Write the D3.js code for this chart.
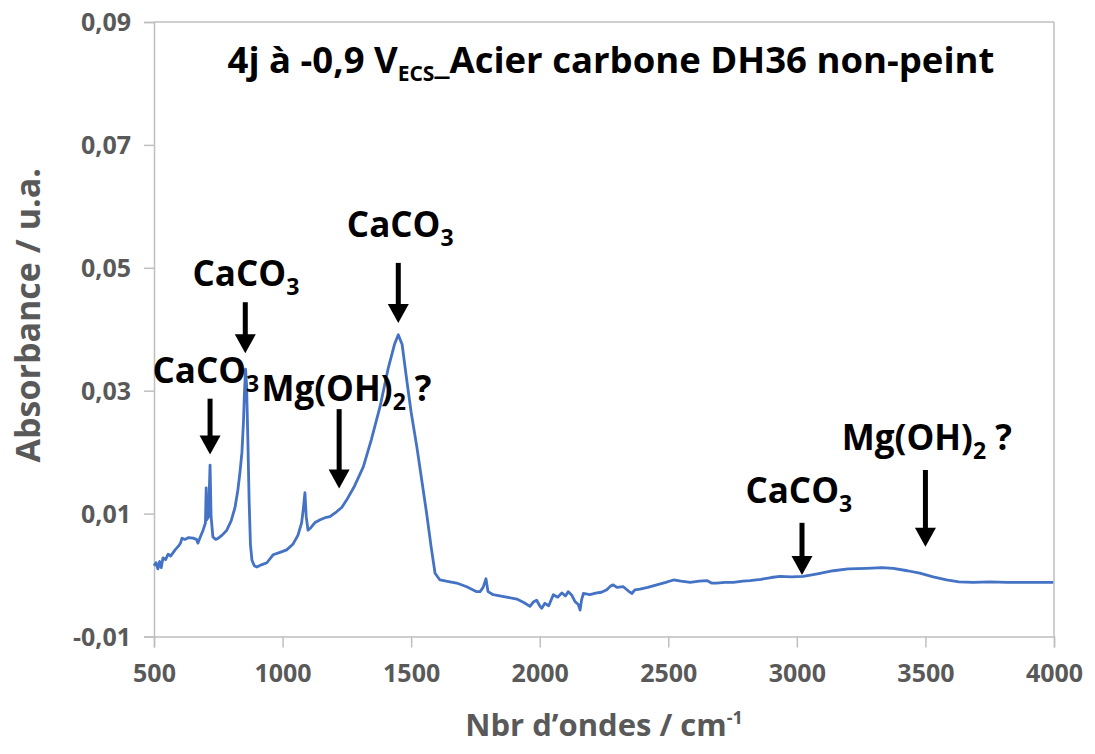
<!DOCTYPE html>
<html><head><meta charset="utf-8">
<script src="https://cdn.jsdelivr.net/npm/d3@7"></script>
<style>body{margin:0;background:#fff}svg{display:block}text{font-family:"Open Sans","Noto Sans",sans-serif;font-weight:bold}</style>
</head><body>
<svg id="c" width="1095" height="754"></svg>
<script>
const wavenumber = [500,508,515,522,528,535,545,555,565,582,595,603,609,620,635,652,665,671,680,691,700,703,705,712,718,722,729,740,750,765,783,800,815,826,834,842,848,852,856,860,865,870,875,881,890,900,920,939,963,990,1016,1040,1060,1074,1080,1087,1092,1099,1110,1125,1146,1170,1184,1210,1230,1249,1280,1314,1345,1379,1410,1435,1450,1465,1483,1500,1522,1540,1560,1578,1593,1612,1651,1677,1716,1755,1768,1780,1791,1799,1819,1860,1911,1940,1962,1975,1988,2000,2008,2020,2035,2053,2070,2086,2100,2111,2125,2137,2150,2157,2163,2170,2195,2222,2240,2261,2275,2286,2300,2325,2345,2358,2370,2390,2420,2455,2490,2520,2550,2585,2620,2650,2668,2688,2720,2753,2790,2818,2860,2900,2934,2980,3025,3080,3142,3200,3271,3330,3375,3430,3478,3530,3582,3630,3686,3750,3816,3900,3997];
const absorbance = [0.0015,0.0020,0.0010,0.0022,0.0012,0.0028,0.0025,0.0034,0.0031,0.0041,0.0047,0.0052,0.0060,0.0058,0.0061,0.0060,0.0058,0.0052,0.0062,0.0073,0.0085,0.0142,0.0090,0.0095,0.0179,0.0095,0.0062,0.0058,0.0060,0.0065,0.0073,0.0088,0.0110,0.0138,0.0166,0.0200,0.0250,0.0300,0.0335,0.0310,0.0220,0.0120,0.0050,0.0024,0.0015,0.0013,0.0017,0.0020,0.0033,0.0037,0.0041,0.0050,0.0065,0.0085,0.0105,0.0134,0.0095,0.0073,0.0077,0.0085,0.0090,0.0094,0.0095,0.0103,0.0110,0.0122,0.0145,0.0176,0.0220,0.0274,0.0335,0.0375,0.0391,0.0375,0.0317,0.0265,0.0209,0.0158,0.0101,0.0045,0.0003,-0.0008,-0.0011,-0.0013,-0.0019,-0.0027,-0.0027,-0.0020,-0.0006,-0.0027,-0.0032,-0.0035,-0.0039,-0.0045,-0.0051,-0.0044,-0.0041,-0.0050,-0.0054,-0.0046,-0.0050,-0.0032,-0.0036,-0.0029,-0.0034,-0.0027,-0.0033,-0.0043,-0.0048,-0.0057,-0.0040,-0.0030,-0.0032,-0.0029,-0.0028,-0.0024,-0.0018,-0.0016,-0.0020,-0.0019,-0.0026,-0.0030,-0.0024,-0.0023,-0.0020,-0.0016,-0.0012,-0.0008,-0.0010,-0.0012,-0.0010,-0.0009,-0.0013,-0.0013,-0.0012,-0.0012,-0.0010,-0.0009,-0.0007,-0.0004,-0.0002,-0.0003,-0.0002,0.0002,0.0007,0.0010,0.0011,0.0012,0.0011,0.0007,0.0003,-0.0003,-0.0008,-0.0011,-0.0012,-0.0011,-0.0012,-0.0012,-0.0012];
const xTicks = [500,1000,1500,2000,2500,3000,3500,4000];
const yTicks = [-0.01,0.01,0.03,0.05,0.07,0.09];
const yTickLabels = ["-0,01","0,01","0,03","0,05","0,07","0,09"];
// annotations: label, arrow x (cm-1), arrow top / tip (absorbance), label anchor x (cm-1), label baseline (absorbance)
const annLabels = ["CaCO3","CaCO3","CaCO3","Mg(OH)2 ?","CaCO3","Mg(OH)2 ?"];
const annArrowX = [718,855,1450,1220,3020,3500];
const annArrowTop = [0.0287,0.0444,0.0508,0.0270,0.0085,0.0171];
const annArrowTip = [0.0196,0.0361,0.0410,0.0141,0.0000,0.0046];
const annTextX = [494,650,1250,918,2800,3175];
const annTextY = [0.0313,0.0471,0.0550,0.0284,0.0118,0.0203];

const svg = d3.select("#c");
const L=154,R=1054,T=22,B=636.5;
const x = d3.scaleLinear().domain([500,4000]).range([L,R]);
const y = d3.scaleLinear().domain([-0.01,0.09]).range([B,T]);
const grey="#595959", axc="#BFBFBF";

// frame
svg.append("line").attr("x1",L).attr("x2",R).attr("y1",T).attr("y2",T).attr("stroke",axc).attr("stroke-width",1.5);
svg.append("line").attr("x1",R).attr("x2",R).attr("y1",T).attr("y2",B).attr("stroke",axc).attr("stroke-width",1.5);

const yAxis = svg.append("g").attr("transform",`translate(${L},0)`)
  .call(d3.axisLeft(y).tickValues(yTicks).tickSize(10).tickFormat((d,i)=>yTickLabels[i]));
const xAxis = svg.append("g").attr("transform",`translate(0,${B})`)
  .call(d3.axisBottom(x).tickValues(xTicks).tickSize(11).tickFormat(d3.format("d")));
[yAxis,xAxis].forEach(g=>{
  g.select(".domain").attr("stroke",axc).attr("stroke-width",1.5);
  g.selectAll(".tick line").attr("stroke",axc).attr("stroke-width",1.5);
  g.selectAll(".tick text").attr("fill",grey).style("font-size","25px").style("font-family","'Open Sans',sans-serif").style("font-weight","bold");
});
yAxis.selectAll(".tick text").attr("x",-23).attr("dy","0.35em");
xAxis.selectAll(".tick text").attr("y",37).attr("dy","0.35em");

// line
const pts = wavenumber.map((w,i)=>[w,absorbance[i]]);
svg.append("path").datum(pts).attr("fill","none").attr("stroke","#4472C4").attr("stroke-width",2.8)
  .attr("stroke-linejoin","round")
  .attr("d",d3.line().x(d=>x(d[0])).y(d=>y(d[1])));

// axis titles
svg.append("text").attr("transform",`translate(40,${(T+B)/2-14}) rotate(-90)`).attr("text-anchor","middle")
  .attr("fill",grey).style("font-size","34px").text("Absorbance / u.a.");
const xt = svg.append("text").attr("x",604).attr("y",736).attr("text-anchor","middle").attr("fill",grey).style("font-size","31px");
xt.append("tspan").text("Nbr d’ondes / cm");
xt.append("tspan").attr("dy",-12).style("font-size","18px").text("-1");

// title
const tt = svg.append("text").attr("x",611).attr("y",73).attr("text-anchor","middle").attr("fill","#000").style("font-size","36.5px");
tt.append("tspan").text("4j à -0,9 V");
tt.append("tspan").attr("dy",8).style("font-size","21px").text("ECS");
tt.append("tspan").attr("dy",-8).text("_Acier carbone DH36 non-peint");

// annotations
function label(sel, s){
  const m = s.match(/^(.*?)(\d)(.*)$/);
  sel.append("tspan").text(m[1]);
  sel.append("tspan").attr("dy",9).style("font-size","23px").text(m[2]);
  if(m[3]) sel.append("tspan").attr("dy",-9).text(m[3]);
}
annLabels.forEach((s,i)=>{
  const t = svg.append("text").attr("x",x(annTextX[i])).attr("y",y(annTextY[i])).attr("fill","#000").style("font-size","35px");
  label(t,s);
  const ax=x(annArrowX[i]), y0=y(annArrowTop[i]), y1=y(annArrowTip[i]);
  svg.append("line").attr("x1",ax).attr("x2",ax).attr("y1",y0).attr("y2",y1-16).attr("stroke","#000").attr("stroke-width",5);
  svg.append("path").attr("d",`M${ax-10.5},${y1-19}L${ax+10.5},${y1-19}L${ax},${y1}Z`).attr("fill","#000");
});
</script>
</body></html>
